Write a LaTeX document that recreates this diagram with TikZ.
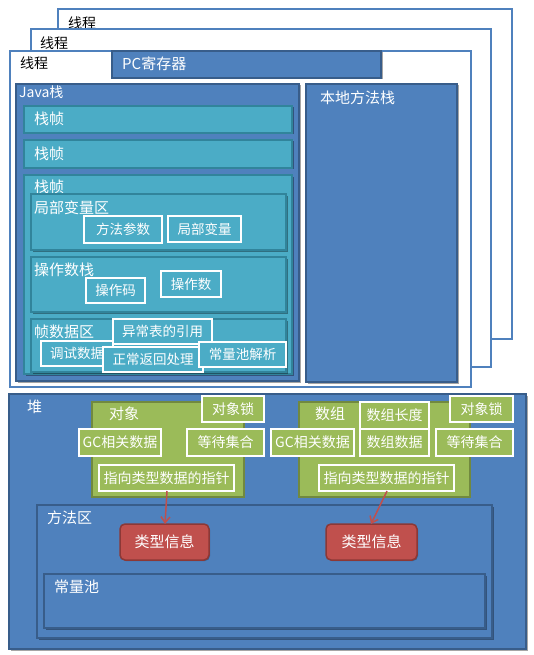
\documentclass[tikz,border=0pt]{standalone}
\usepackage{fontspec}
\newfontfamily\cjk{Noto Sans CJK SC}
\usetikzlibrary{shadows,arrows.meta}

\definecolor{blu}{HTML}{4F81BD}
\definecolor{bluedge}{HTML}{385D8A}
\definecolor{aqua}{HTML}{4BACC6}
\definecolor{aquaedge}{HTML}{31849B}
\definecolor{grn}{HTML}{9BBB59}
\definecolor{grnedge}{HTML}{71893F}
\definecolor{redf}{HTML}{C0504D}
\definecolor{rededge}{HTML}{8C3836}

% box from (x1,y1) to (x2,y2) in pixel units, y pointing down
\newcommand\bx[7]{\node[#1, minimum width={#5-#3}, minimum height={#6-#4}] (#2) at (#3,#4) {#7};}

\tikzset{
  base/.style={anchor=north west, inner sep=0pt, outer sep=0pt, text=white,
    font=\cjk\fontsize{13.5}{15}\selectfont},
  shade1/.style={drop shadow={shadow xshift=1.5pt, shadow yshift=-1.5pt, opacity=0.35, fill=black}},
  shade2/.style={drop shadow={shadow xshift=1pt, shadow yshift=-1pt, opacity=0.25, fill=black}},
  thread/.style={base, draw=blu, line width=2pt, fill=white},
  bluebox/.style={base, draw=bluedge, line width=1.5pt, fill=blu, shade1},
  areabox/.style={base, draw=aquaedge, line width=1.5pt, fill=aqua, shade1},
  tagaqua/.style={base, draw=white, line width=1.2pt, fill=aqua, shade2},
  greenbox/.style={base, draw=grnedge, line width=1.5pt, fill=grn},
  taggreen/.style={base, draw=white, line width=1.2pt, fill=grn, shade2,
    font=\cjk\fontsize{14}{16}\selectfont},
  redbox/.style={base, draw=rededge, line width=1.5pt, fill=redf, rounded corners=5pt,
    shade2, font=\cjk\fontsize{15}{17}\selectfont},
  lbl/.style={anchor=west, inner sep=0pt, text=white, font=\cjk\fontsize{15}{17}\selectfont},
  tlbl/.style={lbl, text=black, font=\cjk\fontsize{14}{16}\selectfont},
  ptr/.style={draw=redf, line width=1.5pt, -{Straight Barb[length=6pt,width=9pt]}},
}

\begin{document}
\begin{tikzpicture}[x=1pt, y=-1pt]
\useasboundingbox (0,0) rectangle (534,655);

% three stacked threads
\bx{thread}{th3}{58}{9}{512}{339}{}
\node[tlbl] (th3l) at (68,23) {线程};
\bx{thread}{th2}{31}{29}{491}{367}{}
\node[tlbl] (th2l) at (40,43) {线程};
\bx{thread}{th1}{10}{51}{471}{387}{}
\node[tlbl] (th1l) at (20,63) {线程};

% program counter
\bx{bluebox}{pc}{112}{51}{381}{78}{}
\node[lbl] (pcl) at (122,64) {PC寄存器};

% Java stack with its frames
\bx{bluebox}{jstack}{16}{84}{299}{381}{}
\node[lbl, font=\cjk\fontsize{14}{16}\selectfont] (jstackl) at (19,92) {Java栈};

\bx{areabox}{f1}{24}{106}{292}{133}{}
\node[lbl] (f1l) at (34,119) {栈帧};
\bx{areabox}{f2}{24}{140}{292}{168}{}
\node[lbl] (f2l) at (34,154) {栈帧};
\bx{areabox}{f3}{24}{175}{292}{374}{}
\node[lbl] (f3l) at (34,187) {栈帧};

% local variables
\bx{areabox}{lv}{31}{194}{286}{250}{}
\node[lbl] (lvl) at (34,208) {局部变量区};
\bx{tagaqua}{args}{84}{216}{162}{243}{方法参数}
\bx{tagaqua}{locals}{168}{216}{241}{242}{局部变量}

% operand stack
\bx{areabox}{os}{31}{257}{286}{312}{}
\node[lbl] (osl) at (34,270) {操作数栈};
\bx{tagaqua}{opcode}{86}{278}{145}{303}{操作码}
\bx{tagaqua}{operand}{161}{271}{221}{297}{操作数}

% frame data
\bx{areabox}{fd}{31}{319}{286}{372}{}
\node[lbl] (fdl) at (34,332) {帧数据区};
\bx{tagaqua}{exc}{113}{319}{212}{344}{异常表的引用}
\bx{tagaqua}{dbg}{41}{341}{113}{366}{调试数据}
\bx{tagaqua}{ret}{103}{347}{203}{372}{正常返回处理}
\bx{tagaqua}{cpres}{199}{342}{286}{367}{常量池解析}

% native method stack
\bx{bluebox}{native}{306}{84}{457}{382}{}
\node[lbl] (nativel) at (320,98) {本地方法栈};

% heap
\bx{bluebox}{heap}{9}{394}{526}{649}{}
\node[lbl] (heapl) at (27,407) {堆};

% an object
\bx{greenbox}{obj}{92}{402}{244}{497}{}
\node[lbl] (objl) at (109,414) {对象};
\bx{taggreen}{lock1}{202}{396}{264}{422}{对象锁}
\bx{taggreen}{gc1}{79}{429}{161}{456}{GC相关数据}
\bx{taggreen}{wait1}{187}{429}{264}{456}{等待集合}
\bx{taggreen}{ptr1}{99}{465}{234}{491}{指向类型数据的指针}

% an array
\bx{greenbox}{arr}{299}{402}{470}{497}{}
\node[lbl] (arrl) at (315,414) {数组};
\bx{taggreen}{len}{360}{402}{429}{429}{数组长度}
\bx{taggreen}{lock2}{450}{396}{513}{422}{对象锁}
\bx{taggreen}{gc2}{271}{429}{354}{456}{GC相关数据}
\bx{taggreen}{adata}{360}{429}{429}{456}{数组数据}
\bx{taggreen}{wait2}{436}{429}{513}{456}{等待集合}
\bx{taggreen}{ptr2}{319}{465}{454}{491}{指向类型数据的指针}

% method area
\bx{bluebox}{marea}{37}{505}{492}{638}{}
\node[lbl] (marealbl) at (47,518) {方法区};
\bx{redbox}{type1}{120}{524}{209}{560}{类型信息}
\bx{redbox}{type2}{326}{524}{417}{560}{类型信息}
\bx{bluebox}{cpool}{44}{574}{485}{628}{}
\node[lbl] (cpooll) at (54,587) {常量池};

% type pointers
\draw[ptr] (ptr1.south -| 167,0) -- (type1.north -| 165,0);
\draw[ptr] (ptr2.south -| 387,0) -- (type2.north -| 371,0);
\end{tikzpicture}
\end{document}
